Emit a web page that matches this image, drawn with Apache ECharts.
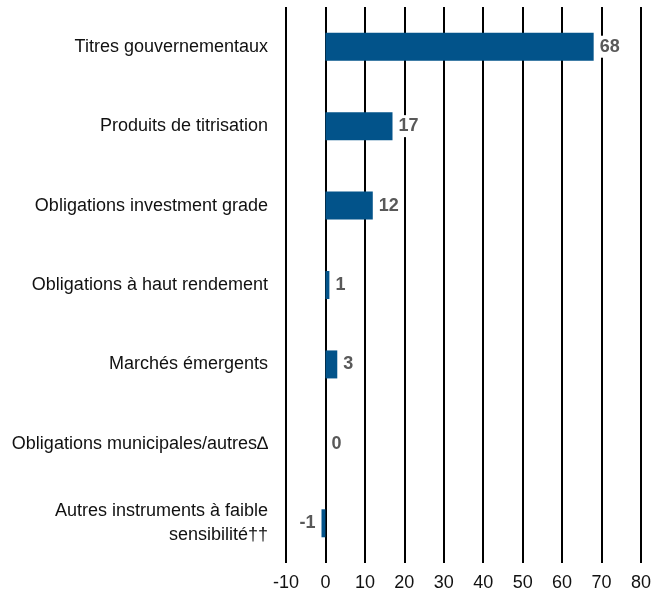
<!DOCTYPE html>
<html>
<head>
<meta charset="utf-8">
<script src="https://cdn.jsdelivr.net/npm/echarts@6/dist/echarts.min.js"></script>
<style>
  html, body { margin: 0; padding: 0; background: #fff; }
  #chart { width: 667px; height: 603px; }
</style>
</head>
<body>
<div id="chart"></div>
<script>
// categories, top to bottom
const categories = [
  'Titres gouvernementaux',
  'Produits de titrisation',
  'Obligations investment grade',
  'Obligations à haut rendement',
  'Marchés émergents',
  'Obligations municipales/autres\u2206',
  'Autres instruments à faible\nsensibilité\u2020\u2020'
];
const values = [68, 17, 12, 1, 3, 0, -1];
const xTicks = [-10, 0, 10, 20, 30, 40, 50, 60, 70, 80];

const chart = echarts.init(document.getElementById('chart'));

chart.setOption({
  animation: false,
  textStyle: { fontFamily: 'Liberation Sans, Arial, sans-serif' },
  grid: { left: 286, right: 26, top: 7, bottom: 40, containLabel: false },
  xAxis: {
    type: 'value',
    min: xTicks[0],
    max: xTicks[xTicks.length - 1],
    interval: 10,
    axisLine: { show: false },
    axisTick: { show: false },
    axisLabel: { color: '#111', fontSize: 18, margin: 11 },
    splitLine: { show: true, lineStyle: { color: '#000', width: 2 } }
  },
  yAxis: {
    type: 'category',
    data: categories,
    inverse: true,
    axisLine: { show: false },
    axisTick: { show: false },
    axisLabel: { color: '#111', fontSize: 18, margin: 18, align: 'right', lineHeight: 24 }
  },
  series: [{
    type: 'bar',
    data: values.map(v => v < 0 ? { value: v, label: { position: 'left' } } : v),
    barWidth: 28,
    itemStyle: { color: '#02538A' },
    label: {
      show: true,
      position: 'right',
      distance: 3,
      color: '#595959',
      fontWeight: 'bold',
      fontSize: 18,
      backgroundColor: '#fff',
      padding: [2, 3]
    }
  }]
});
</script>
</body>
</html>
